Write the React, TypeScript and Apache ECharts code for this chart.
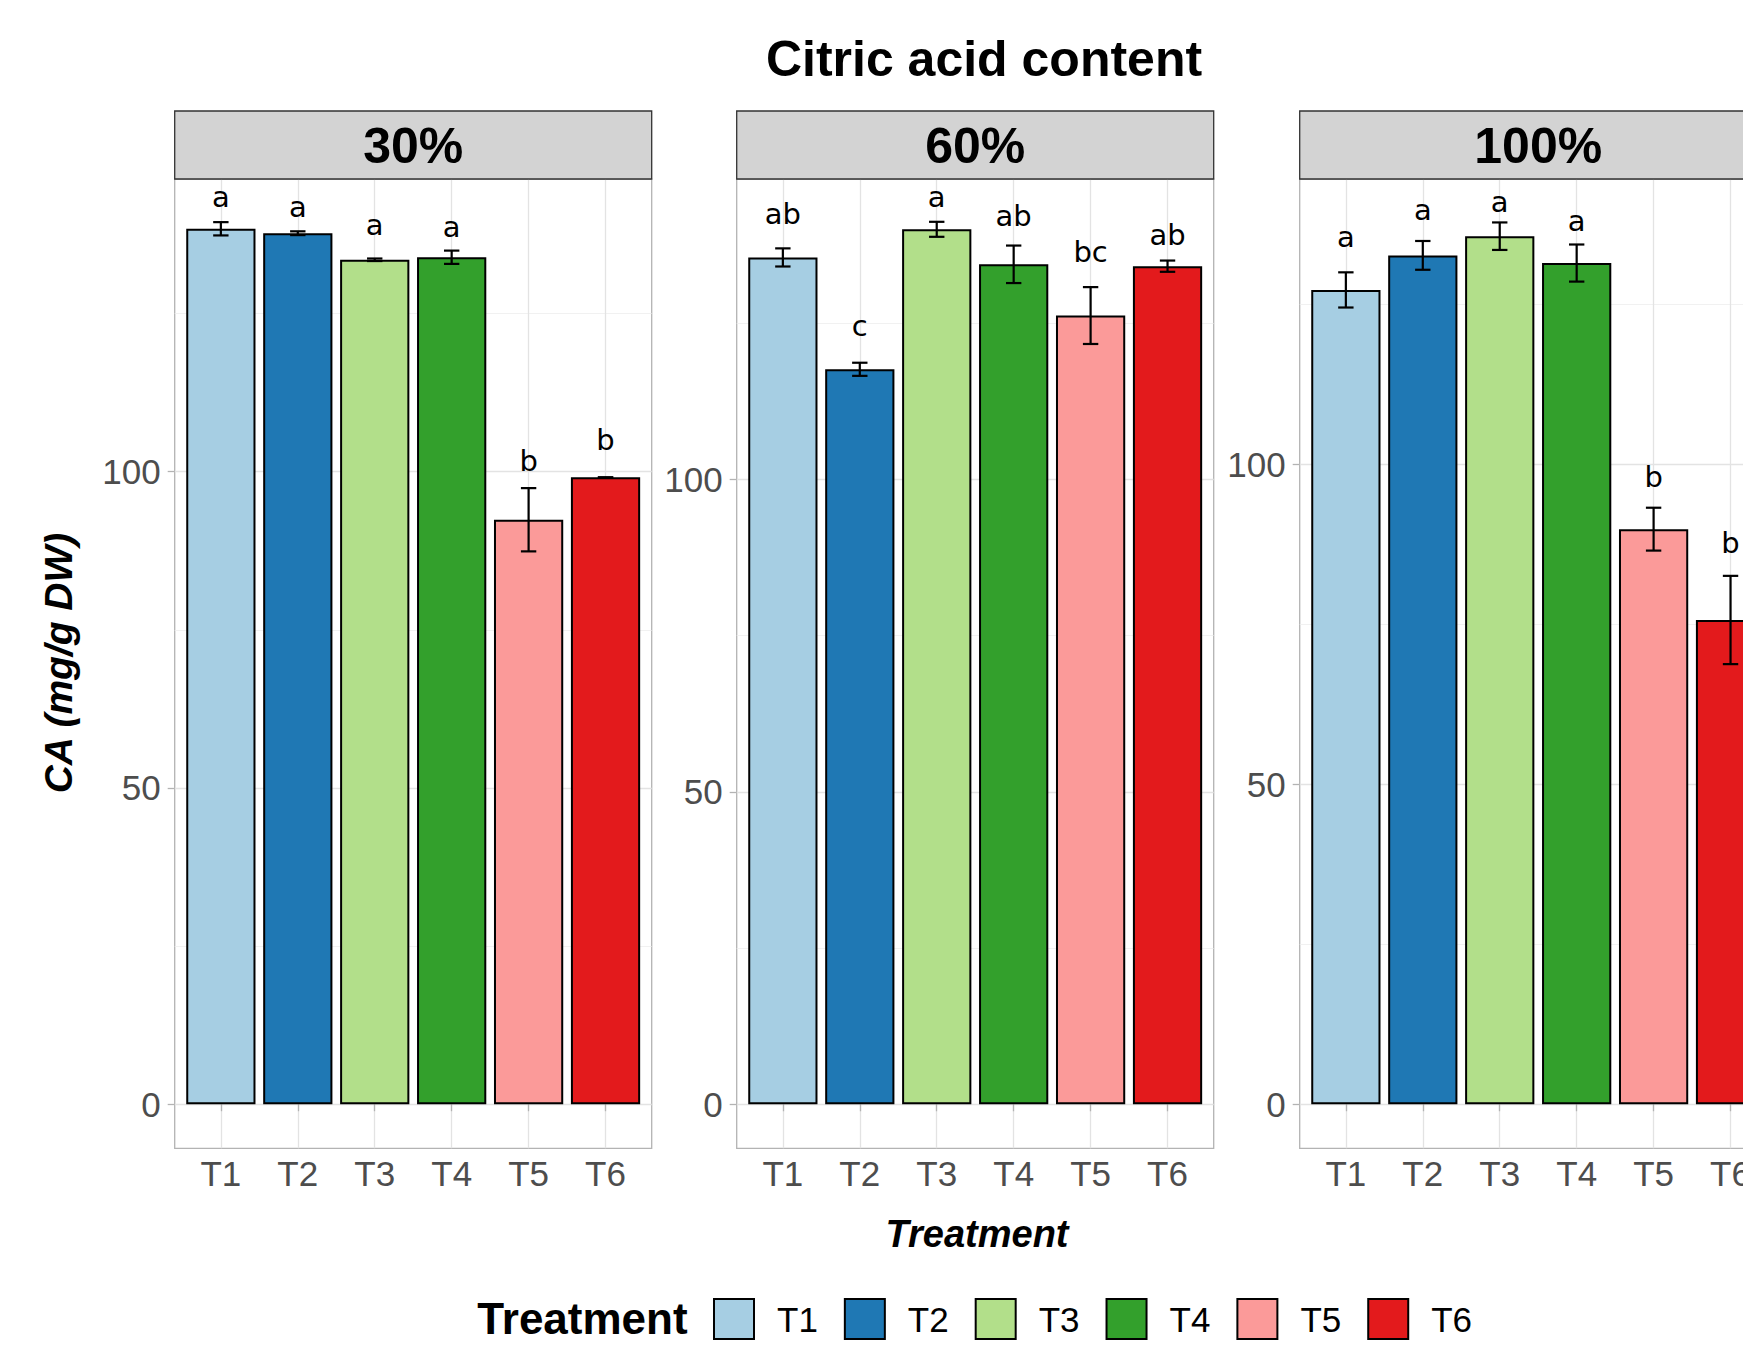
import React, { useEffect, useRef } from 'react';
import * as echarts from 'echarts';

// ---------------- data ----------------
const categories = ['T1', 'T2', 'T3', 'T4', 'T5', 'T6'];
const facets = ['30%', '60%', '100%'];
const colors = ['#A6CEE3', '#1F78B4', '#B2DF8A', '#33A02C', '#FB9A99', '#E31A1C'];

const mean30 = [138.4, 137.7, 133.5, 133.9, 92.4, 99.1];
const se30 = [1.05, 0.3, 0.2, 1.05, 5.0, 0];
const letters30 = ['a', 'a', 'a', 'a', 'b', 'b'];
const labelY30 = [141.9, 140.2, 137.35, 137.1, 100.1, 103.4];

const mean60 = [135.5, 117.6, 140.0, 134.4, 126.2, 134.1];
const se60 = [1.45, 1.05, 1.2, 3.0, 4.55, 0.9];
const letters60 = ['ab', 'c', 'a', 'ab', 'bc', 'ab'];
const labelY60 = [140.85, 122.9, 143.6, 140.6, 134.8, 137.5];

const mean100 = [127.3, 132.7, 135.7, 131.5, 89.9, 75.7];
const se100 = [2.75, 2.25, 2.15, 2.9, 3.35, 6.9];
const letters100 = ['a', 'a', 'a', 'a', 'b', 'b'];
const labelY100 = [134.0, 138.2, 139.4, 136.5, 96.5, 86.1];

const yTicks = [0, 50, 100];
const yLimits = [
  [-6.97, 146.27],
  [-7.05, 148.05],
  [-6.89, 144.64],
];

// ---------------- layout / style ----------------
const FONT = '"Liberation Sans", Arial, Helvetica, sans-serif';
const LETTER_FONT = '"DejaVu Sans", sans-serif';
const LETTER_SIZE = 29;
const PANEL_LEFT = [174.7, 736.7, 1299.7];
const PANEL_W = 477;
const PANEL_TOP = 179;
const PANEL_H = 969.3;
const STRIP_TOP = 111;
const STRIP_H = 68;

const panels = [
  { mean: mean30, se: se30, letters: letters30, labelY: labelY30 },
  { mean: mean60, se: se60, letters: letters60, labelY: labelY60 },
  { mean: mean100, se: se100, letters: letters100, labelY: labelY100 },
];

function buildOption() {
  const grid: any[] = [];
  const xAxis: any[] = [];
  const yAxis: any[] = [];
  const series: any[] = [];
  const graphic: any[] = [];

  panels.forEach((p, k) => {
    const L = PANEL_LEFT[k];
    const unit = PANEL_W / 6.2;
    const [ymin, ymax] = yLimits[k];
    const fg = 2 * k;
    const bg = 2 * k + 1;

    grid.push({
      left: L, top: PANEL_TOP, width: PANEL_W, height: PANEL_H,
      show: true, borderColor: '#B3B3B3', borderWidth: 1.3, backgroundColor: 'transparent',
    });
    grid.push({ left: L + 0.1 * unit, top: PANEL_TOP, width: 6 * unit, height: PANEL_H });

    xAxis.push({ gridIndex: fg, type: 'value', min: 0, max: 1, show: false });
    xAxis.push({
      gridIndex: bg, type: 'category', data: categories,
      axisLine: { show: false },
      axisTick: { show: true, alignWithLabel: true, length: 7, lineStyle: { color: '#B3B3B3', width: 1.3 } },
      axisLabel: { fontSize: 35, color: '#4D4D4D', fontFamily: FONT, margin: 8 },
      splitLine: { show: true, alignWithLabel: true, lineStyle: { color: '#E3E3E3', width: 1.3 } },
    });

    yAxis.push({
      gridIndex: fg, type: 'value', min: ymin, max: ymax, splitNumber: 3,
      axisLine: { show: false },
      axisTick: { show: true, length: 7, customValues: yTicks, lineStyle: { color: '#B3B3B3', width: 1.3 } },
      axisLabel: {
        fontSize: 35, color: '#4D4D4D', fontFamily: FONT, margin: 14,
        customValues: yTicks,
      },
      splitLine: { show: true, lineStyle: { color: '#E3E3E3', width: 1.3 } },
      minorTick: { show: false, splitNumber: 2 },
      minorSplitLine: { show: true, lineStyle: { color: '#EEEEEE', width: 0.8 } },
    });
    yAxis.push({ gridIndex: bg, type: 'value', min: ymin, max: ymax, show: false });

    series.push({
      type: 'bar', name: 'bars' + k, xAxisIndex: bg, yAxisIndex: bg,
      barWidth: '90%',
      itemStyle: { borderColor: '#000', borderWidth: 2 },
      data: p.mean.map((v, i) => ({ value: v, itemStyle: { color: colors[i] } })),
      z: 2,
    });

    series.push({
      type: 'custom', name: 'err' + k, xAxisIndex: bg, yAxisIndex: bg, z: 5,
      data: p.mean.map((m, i) => [i, m - p.se[i], m + p.se[i]]),
      encode: { x: 0, y: [1, 2] },
      renderItem: (params: any, api: any) => {
        const x = api.value(0);
        const lo = api.coord([x, api.value(1)]);
        const hi = api.coord([x, api.value(2)]);
        const hw = api.size([1, 0])[0] * 0.1;
        const st = { stroke: '#000', lineWidth: 2.2 };
        return {
          type: 'group',
          children: [
            { type: 'line', shape: { x1: lo[0], y1: lo[1], x2: hi[0], y2: hi[1] }, style: st },
            { type: 'line', shape: { x1: hi[0] - hw, y1: hi[1], x2: hi[0] + hw, y2: hi[1] }, style: st },
            { type: 'line', shape: { x1: lo[0] - hw, y1: lo[1], x2: lo[0] + hw, y2: lo[1] }, style: st },
          ],
        };
      },
    });

    series.push({
      type: 'custom', name: 'letters' + k, xAxisIndex: bg, yAxisIndex: bg, z: 6,
      data: p.labelY.map((y, i) => [i, y]),
      encode: { x: 0, y: 1 },
      renderItem: (params: any, api: any) => {
        const i = params.dataIndex;
        const pt = api.coord([api.value(0), api.value(1)]);
        return {
          type: 'text',
          x: pt[0],
          y: pt[1] - 0.346 * LETTER_SIZE,
          style: {
            text: p.letters[i], fontSize: LETTER_SIZE, fontFamily: LETTER_FONT, fill: '#000',
            align: 'center', verticalAlign: 'middle',
          },
        };
      },
    });

    // strip
    graphic.push({
      type: 'rect', shape: { x: L, y: STRIP_TOP, width: PANEL_W, height: STRIP_H },
      style: { fill: '#D3D3D3', stroke: '#333333', lineWidth: 1.3 }, z: 10,
    });
    graphic.push({
      type: 'text', x: L + PANEL_W / 2, y: 146, z: 11,
      style: {
        text: facets[k], fontSize: 50, fontWeight: 'bold', fontFamily: FONT, fill: '#000',
        align: 'center', verticalAlign: 'middle',
      },
    });
  });

  // legend dummy series
  categories.forEach((c, i) => {
    series.push({
      type: 'scatter', name: c, xAxisIndex: 0, yAxisIndex: 0, data: [],
      itemStyle: { color: colors[i], borderColor: '#000', borderWidth: 2, opacity: 1 },
    });
  });

  graphic.push({
    type: 'text', x: 984, y: 58.7, z: 11,
    style: {
      text: 'Citric acid content', fontSize: 50, fontWeight: 'bold', fontFamily: FONT, fill: '#000',
      align: 'center', verticalAlign: 'middle',
    },
  });
  graphic.push({
    type: 'text', x: 58, y: 663, rotation: Math.PI / 2, z: 11,
    style: {
      text: 'CA (mg/g DW)', fontSize: 39, fontWeight: 'bold', fontStyle: 'italic', fontFamily: FONT, fill: '#000',
      align: 'center', verticalAlign: 'middle',
    },
  });
  graphic.push({
    type: 'text', x: 977, y: 1233.5, z: 11,
    style: {
      text: 'Treatment', fontSize: 38, fontWeight: 'bold', fontStyle: 'italic', fontFamily: FONT, fill: '#000',
      align: 'center', verticalAlign: 'middle',
    },
  });
  graphic.push({
    type: 'text', x: 687.6, y: 1318, z: 11,
    style: {
      text: 'Treatment', fontSize: 44, fontWeight: 'bold', fontFamily: FONT, fill: '#000',
      align: 'right', verticalAlign: 'middle',
    },
  });

  return {
    animation: false,
    backgroundColor: '#FFFFFF',
    grid, xAxis, yAxis, series, graphic,
    legend: {
      data: categories, left: 713, top: 1298, padding: 0,
      itemWidth: 40, itemHeight: 40, itemGap: 26, icon: 'rect', selectedMode: false,
      itemStyle: { opacity: 1, borderColor: '#000', borderWidth: 2 },
      textStyle: { fontSize: 35, fontFamily: FONT, color: '#000', padding: [0, 0, 0, 18] },
    },
  };
}

export default function App() {
  const ref = useRef<HTMLDivElement>(null);
  useEffect(() => {
    if (!ref.current) return;
    const chart = echarts.init(ref.current, undefined, { renderer: 'svg' });
    chart.setOption(buildOption() as any);
    return () => chart.dispose();
  }, []);
  return (
    <div style={{ position: 'absolute', left: 0, top: 0, width: 1743, height: 1346, overflow: 'hidden', background: '#fff' }}>
      <div ref={ref} style={{ width: 1800, height: 1346 }} />
    </div>
  );
}
